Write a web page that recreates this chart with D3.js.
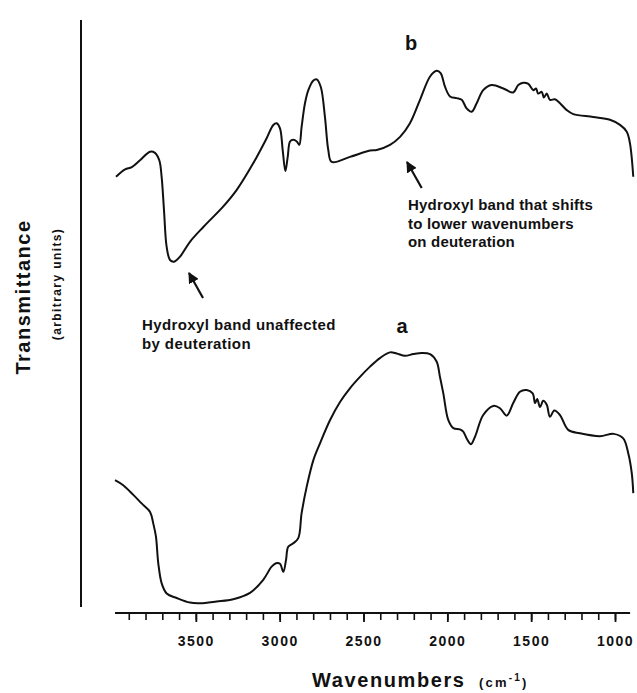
<!DOCTYPE html>
<html><head><meta charset="utf-8">
<script src="https://cdn.jsdelivr.net/npm/d3@7"></script>
<style>
body{margin:0;background:#fff}
text{font-family:"Liberation Sans",Arial,Helvetica,sans-serif;fill:#111;font-weight:bold}
</style>
</head><body>
<svg id="chart" width="637" height="693"></svg>
<script>
// Spectrum b (deuterated) : wavenumber (cm-1) and transmittance (arbitrary units)
const waveB = [3976,3922,3882,3833,3773,3744,3718,3704,3690,3674,3654,3630,3594,3535,3455,3336,3256,3157,3077,3038,3018,2998,2982,2966,2952,2938,2919,2898,2883,2869,2849,2829,2799,2779,2755,2730,2710,2690,2581,2461,2421,2342,2282,2223,2163,2103,2064,2040,2014,1984,1944,1914,1885,1855,1825,1786,1736,1666,1607,1577,1547,1517,1487,1471,1458,1437,1424,1407,1388,1358,1328,1288,1249,1130,1030,970,930,911,891];
const transB = [76.0,77.3,77.7,78.9,80.4,80.2,78.9,76.0,70.2,63.7,61.4,61.1,62.0,64.6,67.2,70.8,73.7,78.4,82.8,85.1,85.4,84.5,80.7,77.0,79.5,82.2,82.5,82.2,81.6,84.8,88.9,91.2,92.9,93.1,91.8,86.5,80.7,78.6,79.5,80.6,80.7,81.6,83.0,85.4,89.5,93.6,94.6,94.2,91.8,90.1,89.8,89.5,88.0,87.4,88.9,91.2,92.1,91.5,90.8,92.1,92.5,92.3,91.2,91.5,90.6,90.9,89.9,90.6,89.5,89.6,88.9,87.7,87.0,86.5,86.0,85.1,83.9,81.9,76.0];
// Spectrum a (original)
const waveA = [3982,3933,3873,3823,3773,3754,3738,3724,3704,3674,3614,3535,3475,3376,3277,3177,3098,3048,3022,2998,2978,2962,2949,2919,2889,2869,2839,2799,2760,2700,2640,2581,2521,2461,2402,2342,2302,2253,2203,2153,2103,2064,2044,2024,1994,1964,1925,1905,1885,1859,1835,1786,1726,1686,1646,1607,1567,1527,1491,1477,1464,1447,1428,1407,1388,1362,1328,1279,1209,1090,1008,951,921,900,891];
const transA = [22.8,21.9,20.2,18.7,17.2,15.2,12.9,8.2,4.7,2.9,2.1,1.3,1.2,1.5,1.9,3.0,5.3,7.6,8.2,8.1,6.7,8.8,11.1,11.7,12.6,17.0,21.6,26.3,29.2,33.3,36.5,38.9,40.9,42.7,44.2,45.2,45.0,44.6,44.9,45.1,44.9,43.6,40.9,38.0,33.3,31.9,31.7,31.3,30.1,29.1,30.4,34.2,35.8,35.4,34.1,36.3,38.3,38.6,38.0,36.3,37.0,35.6,36.7,36.0,33.9,35.0,34.2,31.6,31.0,30.5,30.9,30.1,27.5,24.0,20.5];

const majorTicks = [3500,3000,2500,2000,1500,1000];
const minorTicks = d3.range(3900, 999, -100);
const axisExtent = [3982, 910];

const svg = d3.select("#chart");
const x = d3.scaleLinear().domain([4000, 1000]).range([112, 615]);
const y = d3.scaleLinear().domain([0, 100]).range([610, 40]);

const line = d3.line().x(d => x(d[0])).y(d => y(d[1])).curve(d3.curveCatmullRom.alpha(0.5));

[[waveB, transB], [waveA, transA]].forEach(([w, t]) => {
  svg.append("path")
    .datum(w.map((v, i) => [v, t[i]]))
    .attr("d", line)
    .attr("fill", "none")
    .attr("stroke", "#111")
    .attr("stroke-width", 2)
    .attr("stroke-linejoin", "round");
});

// x axis
const axisY = 613;
const gMinor = svg.append("g").attr("transform", `translate(0,${axisY})`)
  .call(d3.axisBottom(x).tickValues(minorTicks).tickSize(7).tickSizeOuter(0).tickFormat(""));
gMinor.select(".domain").remove();
gMinor.selectAll("line").attr("stroke", "#111").attr("stroke-width", 1.6);

const gMajor = svg.append("g").attr("transform", `translate(0,${axisY})`)
  .call(d3.axisBottom(x).tickValues(majorTicks).tickSize(9).tickSizeOuter(0).tickPadding(14).tickFormat(d3.format("d")));
gMajor.select(".domain").remove();
gMajor.selectAll("line").attr("stroke", "#111").attr("stroke-width", 1.8);
gMajor.selectAll("text")
  .attr("font-size", 14).attr("font-weight", "bold").attr("letter-spacing", 1.5)
  .attr("font-family", "'Liberation Sans',Arial,sans-serif").attr("fill", "#111");

svg.append("line")
  .attr("x1", x(axisExtent[0])).attr("x2", x(axisExtent[1]))
  .attr("y1", axisY).attr("y2", axisY)
  .attr("stroke", "#111").attr("stroke-width", 2);

// left vertical line
svg.append("line").attr("x1", 81).attr("x2", 81).attr("y1", 20).attr("y2", 607)
  .attr("stroke", "#111").attr("stroke-width", 2);

// axis titles
svg.append("text").attr("transform", "translate(30,297) rotate(-90)")
  .attr("text-anchor", "middle").attr("font-size", 20).attr("letter-spacing", 1.5)
  .text("Transmittance");
svg.append("text").attr("transform", "translate(61,284) rotate(-90)")
  .attr("text-anchor", "middle").attr("font-size", 12).attr("letter-spacing", 1.4)
  .text("(arbitrary units)");

const xt = svg.append("text").attr("x", 312).attr("y", 687).attr("font-size", 20).attr("letter-spacing", 1.6);
xt.append("tspan").text("Wavenumbers");
const unit = svg.append("text").attr("x", 479).attr("y", 687).attr("font-size", 13).attr("letter-spacing", 2.2).attr("font-weight", "normal");
unit.append("tspan").text("(cm");
unit.append("tspan").attr("dy", -6).attr("font-size", 10).attr("font-weight", "bold").text("-1");
unit.append("tspan").attr("dy", 6).text(")");

// spectrum labels
svg.append("text").attr("x", 411).attr("y", 50).attr("text-anchor", "middle").attr("font-size", 20).text("b");
svg.append("text").attr("x", 402).attr("y", 333).attr("text-anchor", "middle").attr("font-size", 20).text("a");

// annotations
const noteB = ["Hydroxyl band that shifts", "to lower wavenumbers", "on deuteration"];
const noteA = ["Hydroxyl band unaffected", "by deuteration"];
svg.append("text").attr("x", 408).attr("y", 210).attr("font-size", 15).attr("letter-spacing", 0.2)
  .selectAll("tspan").data(noteB).join("tspan").attr("x", 408).attr("dy", (d, i) => i ? 18.5 : 0).text(d => d);
svg.append("text").attr("x", 142).attr("y", 330).attr("font-size", 15).attr("letter-spacing", 0.4)
  .selectAll("tspan").data(noteA).join("tspan").attr("x", 142).attr("dy", (d, i) => i ? 18.5 : 0).text(d => d);

// arrows
const defs = svg.append("defs");
defs.append("marker").attr("id", "ah").attr("viewBox", "0 0 10 10").attr("refX", 9).attr("refY", 5)
  .attr("markerWidth", 5).attr("markerHeight", 5).attr("orient", "auto")
  .append("path").attr("d", "M0,0 L10,5 L0,10 z").attr("fill", "#111");
[[421.7, 188, 407, 162], [203, 298, 189, 273]].forEach(([x1, y1, x2, y2]) => {
  svg.append("line").attr("x1", x1).attr("y1", y1).attr("x2", x2).attr("y2", y2)
    .attr("stroke", "#111").attr("stroke-width", 2.2).attr("marker-end", "url(#ah)");
});
</script>
</body></html>
